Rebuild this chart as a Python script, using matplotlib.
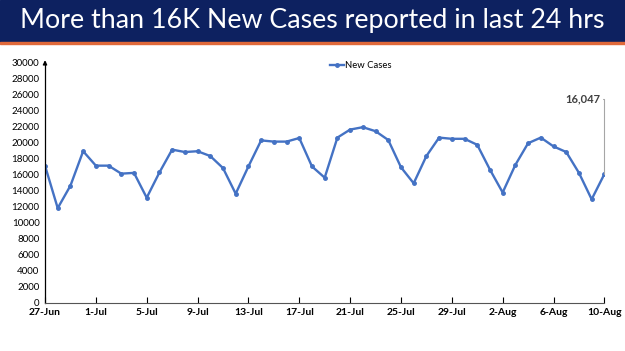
import numpy as np
import pandas as pd
import matplotlib.pyplot as plt
from matplotlib.patches import Rectangle

# daily new cases, 27-Jun to 10-Aug
dates = pd.date_range("2021-06-27", "2021-08-10", freq="D")
new_cases = [
    17100, 11800, 14600, 18900, 17100, 17100, 16100, 16200, 13100, 16250,
    19100, 18800, 18900, 18300, 16800, 13600, 17000, 20250, 20100, 20100,
    20550, 17000, 15600, 20600, 21600, 21900, 21400, 20300, 16900, 14900,
    18300, 20600, 20450, 20450, 19700, 16600, 13750, 17200, 19900, 20600,
    19500, 18800, 16200, 12900, 16047,
]
y_ticks = list(range(0, 30001, 2000))
title = "More than 16K New Cases reported in last 24 hrs"

plt.rcParams["font.family"] = ["Lato", "DejaVu Sans"]

fig = plt.figure(figsize=(6.25, 3.51), dpi=100)

# title banner
fig.patches.append(Rectangle((0, 0.880), 1, 0.120, transform=fig.transFigure,
                             color="#0d2160", zorder=0))
fig.patches.append(Rectangle((0, 0.875), 1, 0.006, transform=fig.transFigure,
                             color="#e0693a", zorder=0))
fig.text(0.5, 0.941, title, color="white", fontsize=19.3,
         ha="center", va="center")

ax = fig.add_axes([0.072, 0.1376, 0.895, 0.685])
x = np.arange(len(new_cases))
ax.plot(x, new_cases, color="#4472c4", lw=1.7, marker="o", ms=2.5,
        label="New Cases")

ax.set_xlim(0, len(new_cases) - 1)
ax.set_ylim(0, 30000)
ax.set_yticks(y_ticks)
ax.set_yticklabels([str(v) for v in y_ticks], fontsize=7)
ax.set_xticks(x[::4])
ax.set_xticklabels([f"{d.day}-{d.strftime('%b')}" for d in dates[::4]],
                   fontsize=7.5, fontweight="bold")
ax.tick_params(axis="y", length=0, pad=4)
ax.tick_params(axis="x", direction="in", length=4, width=0.8, pad=4)

for s in ["top", "right"]:
    ax.spines[s].set_visible(False)
ax.spines["left"].set_linewidth(0.9)
ax.spines["bottom"].set_color("#555555")
ax.annotate("", xy=(0, 1.02), xytext=(0, 0.98), xycoords="axes fraction",
            arrowprops=dict(arrowstyle="-|>", color="black", lw=0.9,
                            mutation_scale=6))

# label for last point
last = len(new_cases) - 1
ax.annotate(f"{new_cases[-1]:,}", xy=(last, new_cases[-1]),
            xytext=(last - 0.35, 25400), ha="right", va="center",
            fontsize=8, fontweight="bold", color="#404040",
            arrowprops=dict(arrowstyle="-", color="#a6a6a6", lw=0.8,
                            shrinkA=0, shrinkB=0,
                            connectionstyle="angle,angleA=0,angleB=90,rad=0"))

ax.legend(loc="upper center", bbox_to_anchor=(0.565, 1.04), frameon=False,
          fontsize=6.8, handlelength=1.5, handletextpad=0.1)

fig.savefig("out.png", dpi=100)
